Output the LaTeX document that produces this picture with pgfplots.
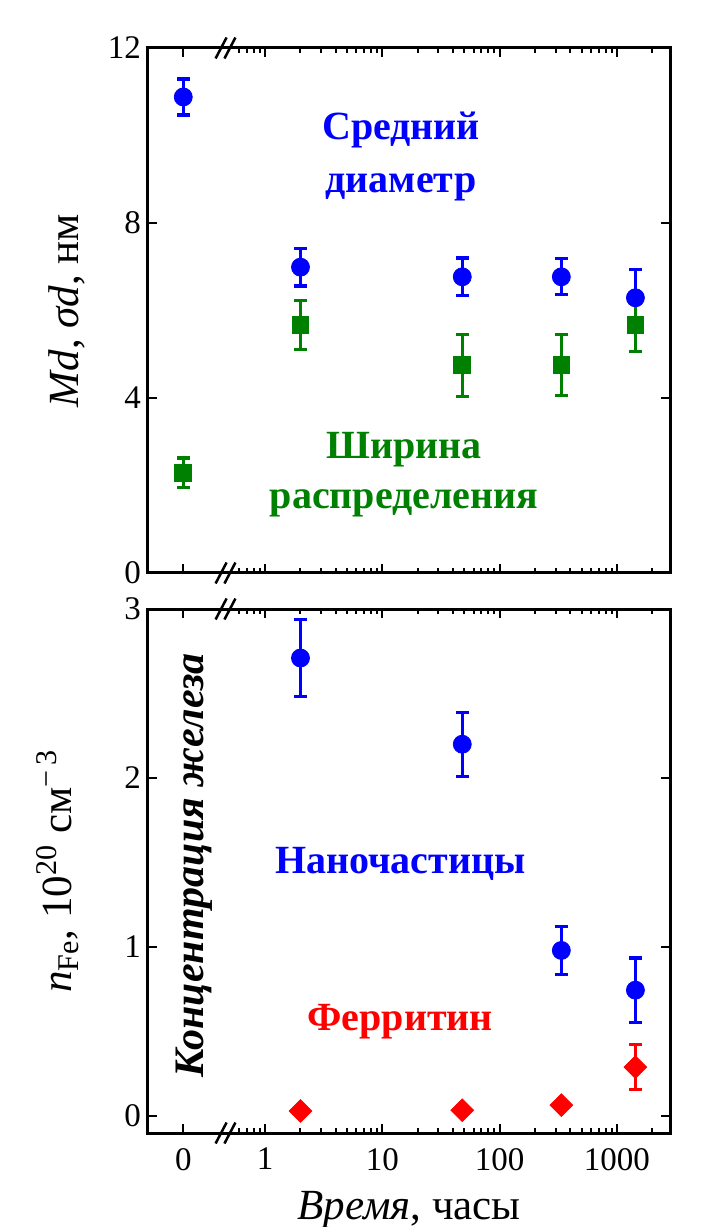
\documentclass[border=0pt]{standalone}
\usepackage{fontspec}
\setmainfont{Liberation Serif}
\usepackage{pgfplots}
\pgfplotsset{compat=1.18}
\pgfkeys{/pgf/number format/assume math mode=true}
\definecolor{mblue}{RGB}{0,0,255}
\definecolor{mgreen}{RGB}{0,128,0}
\definecolor{mred}{RGB}{255,0,0}

\begin{document}
\begin{tikzpicture}
\path[use as bounding box] (-74pt,-47pt) rectangle (279.5pt,566.5pt);

% ---------- top panel ----------
\begin{axis}[
  scale only axis, width=261pt, height=262.5pt,
  at={(0,280pt)}, anchor=south west,
  xmode=log, xmin=0.1, xmax=2840,
  ymin=0, ymax=12, ytick={0,4,8,12},
  axis line style={line width=1.5pt},
  tick style={line width=1pt, black},
  major tick length=4.5pt, minor tick length=2.5pt,
  tick align=inside,
  xtick={0.2,1,10,100,1000},
  minor xtick={0.6,0.7,0.8,0.9,2,3,4,5,6,7,8,9,20,30,40,50,60,70,80,90,200,300,400,500,600,700,800,900,2000},
  xticklabels={},
  ticklabel style={font=\fontsize{16.5}{16.5}\selectfont},
  clip=false,
  ylabel={\textit{Md}, \textit{σd}, нм},
  ylabel style={font=\fontsize{21.5}{21.5}\selectfont, anchor=base, at={(axis description cs:-0.134,0.5)}},
]
\addplot[only marks, mark=*, mblue, mark size=4.5pt,
  error bars/.cd, y dir=both, y explicit,
  error bar style={line width=1.6pt},
  error mark options={rotate=90, mark size=3.25pt, line width=1.6pt}]
  table[x=t, y=y, y error=e] {
t y e
0.2 10.88 0.41
2 6.99 0.43
48 6.77 0.43
336 6.77 0.41
1440 6.29 0.65
};
\addplot[only marks, mark=square*, mgreen, mark size=4.2pt,
  error bars/.cd, y dir=both, y explicit,
  error bar style={line width=1.6pt},
  error mark options={rotate=90, mark size=3.25pt, line width=1.6pt}]
  table[x=t, y=y, y error=e] {
t y e
0.2 2.29 0.34
2 5.67 0.56
48 4.75 0.71
336 4.75 0.70
1440 5.67 0.61
};
\node[mblue, font=\fontsize{20}{26.5}\selectfont\bfseries, align=center] at (axis cs:14.4,9.53) {Средний\\диаметр};
\node[mgreen, font=\fontsize{20}{25}\selectfont\bfseries, align=center] at (axis cs:15.3,2.25) {Ширина\\распределения};
\draw[line width=1.25pt] ([xshift=-2.75pt,yshift=-5.25pt]rel axis cs:0.14,1) -- ++(5.5pt,10.5pt);
\draw[line width=1.25pt] ([xshift=-2.75pt,yshift=-5.25pt]rel axis cs:0.157,1) -- ++(5.5pt,10.5pt);
\draw[line width=1.25pt] ([xshift=-2.75pt,yshift=-5.25pt]rel axis cs:0.14,0) -- ++(5.5pt,10.5pt);
\draw[line width=1.25pt] ([xshift=-2.75pt,yshift=-5.25pt]rel axis cs:0.157,0) -- ++(5.5pt,10.5pt);
\end{axis}

% ---------- bottom panel ----------
\begin{axis}[
  scale only axis, width=261pt, height=262pt,
  at={(0,0)}, anchor=south west,
  xmode=log, xmin=0.1, xmax=2840,
  ymin=-0.1, ymax=3, ytick={0,1,2,3},
  axis line style={line width=1.5pt},
  tick style={line width=1pt, black},
  major tick length=4.5pt, minor tick length=2.5pt,
  tick align=inside,
  xtick={0.2,1,10,100,1000},
  minor xtick={0.6,0.7,0.8,0.9,2,3,4,5,6,7,8,9,20,30,40,50,60,70,80,90,200,300,400,500,600,700,800,900,2000},
  xticklabels={0,1,10,100,1000},
  ticklabel style={font=\fontsize{16.5}{16.5}\selectfont},
  xticklabel style={yshift=-4pt},
  clip=false,
  ylabel={\textit{n}\textsubscript{Fe}, 10\textsuperscript{20} см\textsuperscript{−\,3}},
  ylabel style={font=\fontsize{21.5}{21.5}\selectfont, anchor=base, at={(axis description cs:-0.1456,0.5)}},
  xlabel={\textit{Время}, часы},
  xlabel style={font=\fontsize{21.5}{21.5}\selectfont, at={(axis description cs:0.5,0)}, anchor=base, yshift=-43pt},
]
\addplot[only marks, mark=*, mblue, mark size=4.5pt,
  error bars/.cd, y dir=both, y explicit,
  error bar style={line width=1.6pt},
  error mark options={rotate=90, mark size=3.25pt, line width=1.6pt}]
  table[x=t, y=y, y error=e] {
t y e
2 2.71 0.23
48 2.20 0.19
336 0.98 0.14
1440 0.745 0.19
};
\addplot[only marks, mark=square*, mark options={rotate=45}, mred, mark size=4pt,
  error bars/.cd, y dir=both, y explicit,
  error bar style={line width=1.6pt},
  error mark options={rotate=90, mark size=3.25pt, line width=1.6pt}]
  table[x=t, y=y, y error=e] {
t y e
2 0.03 0
48 0.035 0
336 0.065 0
1440 0.29 0.135
};
\node[mblue, font=\fontsize{20}{24}\selectfont\bfseries] at (axis cs:14.2,1.49) {Наночастицы};
\node[mred, font=\fontsize{20}{24}\selectfont\bfseries] at (axis cs:14.2,0.556) {Ферритин};
\node[black, font=\fontsize{21}{21}\selectfont\bfseries\itshape, rotate=90, anchor=base] at (rel axis cs:0.107,0.511) {Концентрация железа};
\draw[line width=1.25pt] ([xshift=-2.75pt,yshift=-5.25pt]rel axis cs:0.14,1) -- ++(5.5pt,10.5pt);
\draw[line width=1.25pt] ([xshift=-2.75pt,yshift=-5.25pt]rel axis cs:0.157,1) -- ++(5.5pt,10.5pt);
\draw[line width=1.25pt] ([xshift=-2.75pt,yshift=-5.25pt]rel axis cs:0.14,0) -- ++(5.5pt,10.5pt);
\draw[line width=1.25pt] ([xshift=-2.75pt,yshift=-5.25pt]rel axis cs:0.157,0) -- ++(5.5pt,10.5pt);
\end{axis}
\end{tikzpicture}
\end{document}
